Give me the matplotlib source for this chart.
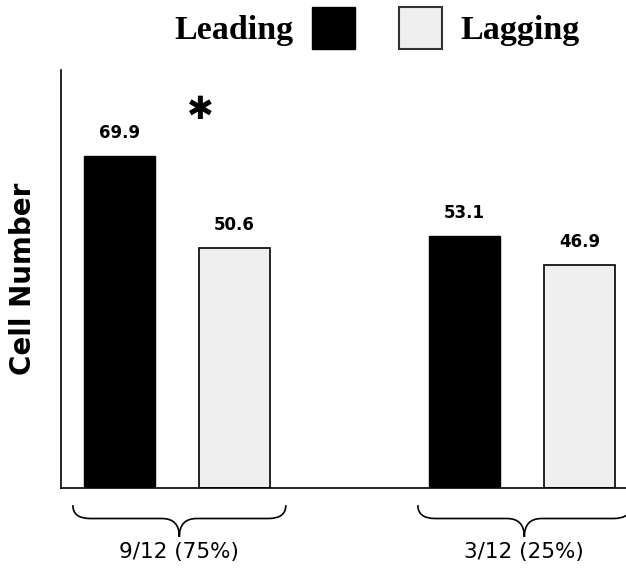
import matplotlib
matplotlib.use("Agg")
import matplotlib.pyplot as plt
import numpy as np
from matplotlib.path import Path
from matplotlib.patches import PathPatch, Patch
import matplotlib.transforms as mtransforms

groups = ['9/12 (75%)', '3/12 (25%)']
leading = [69.9, 53.1]
lagging = [50.6, 46.9]
series = ['Leading', 'Lagging']

x = np.array([0, 3])
width = 0.62

fig = plt.figure(figsize=(6.26, 5.69), dpi=100)
ax = fig.add_axes([61 / 626, 81 / 569, 1 - 61 / 626, 418 / 569])

b1 = ax.bar(x, leading, width, color='black', edgecolor='black', linewidth=1.0)
b2 = ax.bar(x + 1, lagging, width, color='#efefef', edgecolor='black', linewidth=1.2)
for b in (b1, b2):
    ax.bar_label(b, fmt='%.1f', padding=10, fontsize=12, fontweight='bold',
                 family='DejaVu Sans')

ax.set_xlim(-0.509, 4.404)
ax.set_ylim(0, 88)
ax.set_xticks([])
ax.set_yticks([])
ax.spines['top'].set_visible(False)
ax.spines['right'].set_visible(False)
ax.spines['left'].set_linewidth(1.2)
ax.spines['bottom'].set_linewidth(1.2)
ax.set_ylabel('Cell Number', fontsize=20, fontweight='bold', family='DejaVu Sans',
              labelpad=17)

# significance star
ax.text(0.7, 79.5, '\u2731', ha='center', va='center', fontsize=23,
        family='DejaVu Sans')

# braces under the groups
trans = mtransforms.blended_transform_factory(ax.transData, ax.transAxes)
w, r = 0.926, 0.15
top, mid, tip = -0.041, -0.073, -0.117
for gx, g in zip(x + 0.5, groups):
    c = gx + 0.02
    verts = [(c - w, top), (c - w, mid), (c - w + r, mid),
             (c - r, mid), (c, mid), (c, tip),
             (c, mid), (c + r, mid),
             (c + w - r, mid), (c + w, mid), (c + w, top)]
    codes = [Path.MOVETO, Path.CURVE3, Path.CURVE3,
             Path.LINETO, Path.CURVE3, Path.CURVE3,
             Path.CURVE3, Path.CURVE3,
             Path.LINETO, Path.CURVE3, Path.CURVE3]
    ax.add_patch(PathPatch(Path(verts, codes), transform=trans, fill=False,
                           lw=1.2, edgecolor='black', clip_on=False))
    ax.text(c, -0.153, g, transform=trans, ha='center', va='center',
            fontsize=15.5, family='DejaVu Sans')

# legend: text left of black box, then box left of text
lead_h = Patch(facecolor='black', edgecolor='black')
lag_h = Patch(facecolor='#efefef', edgecolor='#333333', linewidth=1.5)
legkw = dict(frameon=False, borderpad=0, borderaxespad=0, handlelength=1.25,
             handleheight=1.52, handletextpad=0.55,
             prop={'family': 'Liberation Serif', 'weight': 'bold', 'size': 24.5})
leg1 = fig.legend([lead_h], [series[0]], loc='center right',
                  bbox_to_anchor=(355 / 626, 1 - 28 / 569), markerfirst=False, **legkw)
leg2 = fig.legend([lag_h], [series[1]], loc='center left',
                  bbox_to_anchor=(399 / 626, 1 - 28 / 569), **legkw)

fig.savefig('out.png', dpi=100)
